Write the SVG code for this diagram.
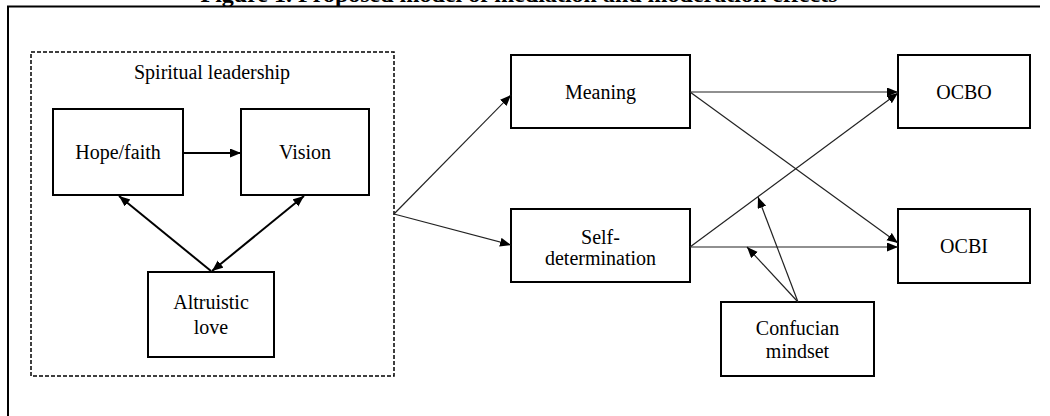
<svg xmlns="http://www.w3.org/2000/svg" width="1050" height="416" viewBox="0 0 1050 416">
  <style>
    .box { fill: #fff; stroke: #000; stroke-width: 2; }
    .lbl { font-family: "Liberation Serif", "DejaVu Serif", serif; font-size: 20px; fill: #000; text-anchor: middle; }
    .title { font-family: "Liberation Serif", "DejaVu Serif", serif; font-size: 24px; font-weight: bold; fill: #000; text-anchor: middle; }
    .thick { fill: none; stroke: #000; stroke-width: 2; }
    .thin { fill: none; stroke: #222; stroke-width: 1.2; }
    .frame { fill: none; stroke: #000; stroke-width: 2; }
    .group { fill: none; stroke: #000; stroke-width: 1.5; stroke-dasharray: 4 2; }
  </style>
  <defs>
    <marker id="ah" markerUnits="userSpaceOnUse" markerWidth="12" markerHeight="10" refX="11" refY="4.5" orient="auto-start-reverse">
      <path d="M0,0 L11,4.5 L0,9 z" fill="#000"/>
    </marker>
  </defs>

  <text class="title" x="519" y="1.5">Figure 1. Proposed model of mediation and moderation effects</text>
  <path class="frame" d="M8,416 V6.5 H1040"/>

  <g id="spiritual-leadership">
    <rect class="group" x="31" y="52" width="363" height="324"/>
    <text class="lbl" x="212" y="79">Spiritual leadership</text>
  </g>
  <g id="hope-faith">
    <rect class="box" x="53" y="109" width="130" height="86"/>
    <text class="lbl" x="118" y="159">Hope/faith</text>
  </g>
  <g id="vision">
    <rect class="box" x="241" y="109" width="128" height="86"/>
    <text class="lbl" x="305" y="159">Vision</text>
  </g>
  <g id="altruistic-love">
    <rect class="box" x="148" y="272" width="126" height="85"/>
    <text class="lbl" x="211" y="309">Altruistic</text>
    <text class="lbl" x="211" y="334">love</text>
  </g>
  <g id="meaning">
    <rect class="box" x="511" y="55" width="179" height="73"/>
    <text class="lbl" x="600.5" y="99">Meaning</text>
  </g>
  <g id="self-determination">
    <rect class="box" x="511" y="209" width="179" height="73"/>
    <text class="lbl" x="600.5" y="244">Self-</text>
    <text class="lbl" x="600.5" y="265">determination</text>
  </g>
  <g id="ocbo">
    <rect class="box" x="898" y="55" width="132" height="73"/>
    <text class="lbl" x="964" y="99">OCBO</text>
  </g>
  <g id="ocbi">
    <rect class="box" x="898" y="209" width="132" height="74"/>
    <text class="lbl" x="964" y="253">OCBI</text>
  </g>
  <g id="confucian-mindset">
    <rect class="box" x="721" y="302" width="153" height="74"/>
    <text class="lbl" x="797.5" y="335">Confucian</text>
    <text class="lbl" x="797.5" y="358">mindset</text>
  </g>

  <g id="connectors">
    <line class="thick" x1="183" y1="153" x2="241" y2="153" marker-end="url(#ah)"/>
    <line class="thick" x1="211" y1="271" x2="119" y2="196" marker-end="url(#ah)"/>
    <line class="thick" x1="304" y1="196" x2="212" y2="271" marker-start="url(#ah)" marker-end="url(#ah)"/>
    <line class="thin" x1="394" y1="214" x2="511" y2="95" marker-end="url(#ah)"/>
    <line class="thin" x1="394" y1="214" x2="511" y2="245" marker-end="url(#ah)"/>
    <line class="thin" x1="690" y1="92" x2="898" y2="92" marker-end="url(#ah)"/>
    <line class="thin" x1="690" y1="92" x2="898" y2="243" marker-end="url(#ah)"/>
    <line class="thin" x1="690" y1="247" x2="898" y2="93" marker-end="url(#ah)"/>
    <line class="thin" x1="690" y1="247" x2="898" y2="247" marker-end="url(#ah)"/>
    <line class="thin" x1="798" y1="302" x2="758" y2="197" marker-end="url(#ah)"/>
    <line class="thin" x1="798" y1="302" x2="747" y2="247" marker-end="url(#ah)"/>
  </g>
</svg>
